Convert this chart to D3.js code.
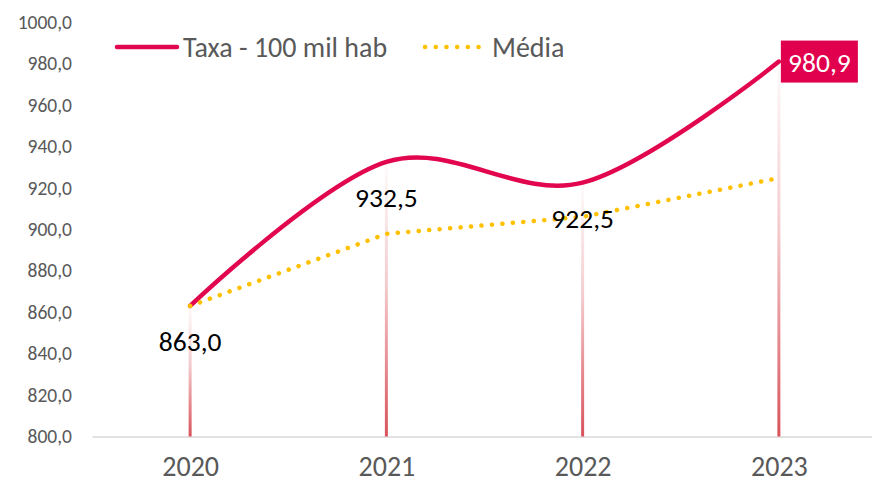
<!DOCTYPE html>
<html>
<head>
<meta charset="utf-8">
<script src="https://cdn.jsdelivr.net/npm/d3@7"></script>
<style>
  body { margin: 0; background: #fff; }
  text { font-family: Carlito, Calibri, Lato, sans-serif; }
</style>
</head>
<body>
<div id="chart"></div>
<script>
const years = ["2020", "2021", "2022", "2023"]
const taxa = [863.0, 932.5, 922.5, 980.9]
const media = [863.0, 897.8, 906.0, 924.7]
const yTicks = [800, 820, 840, 860, 880, 900, 920, 940, 960, 980, 1000]

const W = 872, H = 484
const RED = "#e2064f", YEL = "#ffc000", GREY = "#595959"

const svg = d3.select("#chart").append("svg")
  .attr("width", W).attr("height", H)

const fmt = v => d3.format(".1f")(v).replace(".", ",")

const x = d3.scalePoint().domain(years).range([92, 877]).padding(0.5)
const y = d3.scaleLinear().domain([800, 1000]).range([436.5, 22])

// gradient for drop bars
const grad = svg.append("defs").append("linearGradient")
  .attr("id", "drop").attr("x1", 0).attr("y1", 0).attr("x2", 0).attr("y2", 1)
grad.append("stop").attr("offset", "0%").attr("stop-color", "#d9525a").attr("stop-opacity", 0.02)
grad.append("stop").attr("offset", "45%").attr("stop-color", "#d9525a").attr("stop-opacity", 0.3)
grad.append("stop").attr("offset", "100%").attr("stop-color", "#d9525a").attr("stop-opacity", 1)

// y axis
const yAxis = svg.append("g")
  .attr("transform", "translate(72,0)")
  .call(d3.axisLeft(y).tickValues(yTicks).tickSize(0).tickPadding(0).tickFormat(fmt))
yAxis.select(".domain").remove()
yAxis.selectAll("text").attr("fill", GREY).style("font-size", "19.5px")

// x axis
const xAxis = svg.append("g")
  .attr("transform", `translate(0,${y(800)})`)
  .call(d3.axisBottom(x).tickSize(0).tickSizeOuter(0).tickPadding(20))
xAxis.select(".domain").attr("stroke", "#d9d9d9").attr("stroke-width", 1.5)
xAxis.selectAll("text").attr("fill", GREY).style("font-size", "28px")

// drop bars
svg.selectAll("rect.drop")
  .data(taxa)
  .enter().append("rect")
    .attr("class", "drop")
    .attr("x", (d, i) => x(years[i]) - 1.5)
    .attr("width", 3)
    .attr("y", d => y(d))
    .attr("height", d => y(800) - y(d))
    .attr("fill", "url(#drop)")

// taxa line
const lineSmooth = d3.line()
  .x((d, i) => x(years[i]))
  .y(d => y(d))
  .curve(d3.curveCardinal.tension(0))

svg.append("path")
  .datum(taxa)
  .attr("d", lineSmooth)
  .attr("fill", "none")
  .attr("stroke", RED)
  .attr("stroke-width", 4.5)
  .attr("stroke-linecap", "round")

// media line
const lineStraight = d3.line()
  .x((d, i) => x(years[i]))
  .y(d => y(d))

svg.append("path")
  .datum(media)
  .attr("d", lineStraight)
  .attr("fill", "none")
  .attr("stroke", YEL)
  .attr("stroke-width", 4.5)
  .attr("stroke-linecap", "round")
  .attr("stroke-dasharray", "0.1 10.4")

// data labels
svg.selectAll("text.lbl")
  .data(taxa.slice(0, 3))
  .enter().append("text")
    .attr("class", "lbl")
    .attr("x", (d, i) => x(years[i]))
    .attr("y", d => y(d) + 45)
    .attr("text-anchor", "middle")
    .attr("fill", "#000")
    .style("font-size", "27.5px")
    .text(fmt)

// highlighted last label
const last = taxa.length - 1
const lx = x(years[last]) + 2, ly = y(taxa[last])
svg.append("rect")
  .attr("x", lx).attr("y", ly - 21)
  .attr("width", 77).attr("height", 42)
  .attr("fill", "#e0004d")
svg.append("text")
  .attr("x", lx + 38.5).attr("y", ly + 10)
  .attr("text-anchor", "middle")
  .attr("fill", "#fff")
  .style("font-size", "27.5px")
  .text(fmt(taxa[last]))

// legend
const leg = svg.append("g")
leg.append("line")
  .attr("x1", 117).attr("x2", 177).attr("y1", 47).attr("y2", 47)
  .attr("stroke", RED).attr("stroke-width", 4.5).attr("stroke-linecap", "round")
leg.append("text")
  .attr("x", 183).attr("y", 57)
  .attr("fill", GREY).style("font-size", "28px")
  .text("Taxa - 100 mil hab")
leg.append("line")
  .attr("x1", 425).attr("x2", 479).attr("y1", 47).attr("y2", 47)
  .attr("stroke", YEL).attr("stroke-width", 4.5).attr("stroke-linecap", "round")
  .attr("stroke-dasharray", "0.1 10.6")
leg.append("text")
  .attr("x", 492).attr("y", 57)
  .attr("fill", GREY).style("font-size", "28px")
  .text("Média")
</script>
</body>
</html>
